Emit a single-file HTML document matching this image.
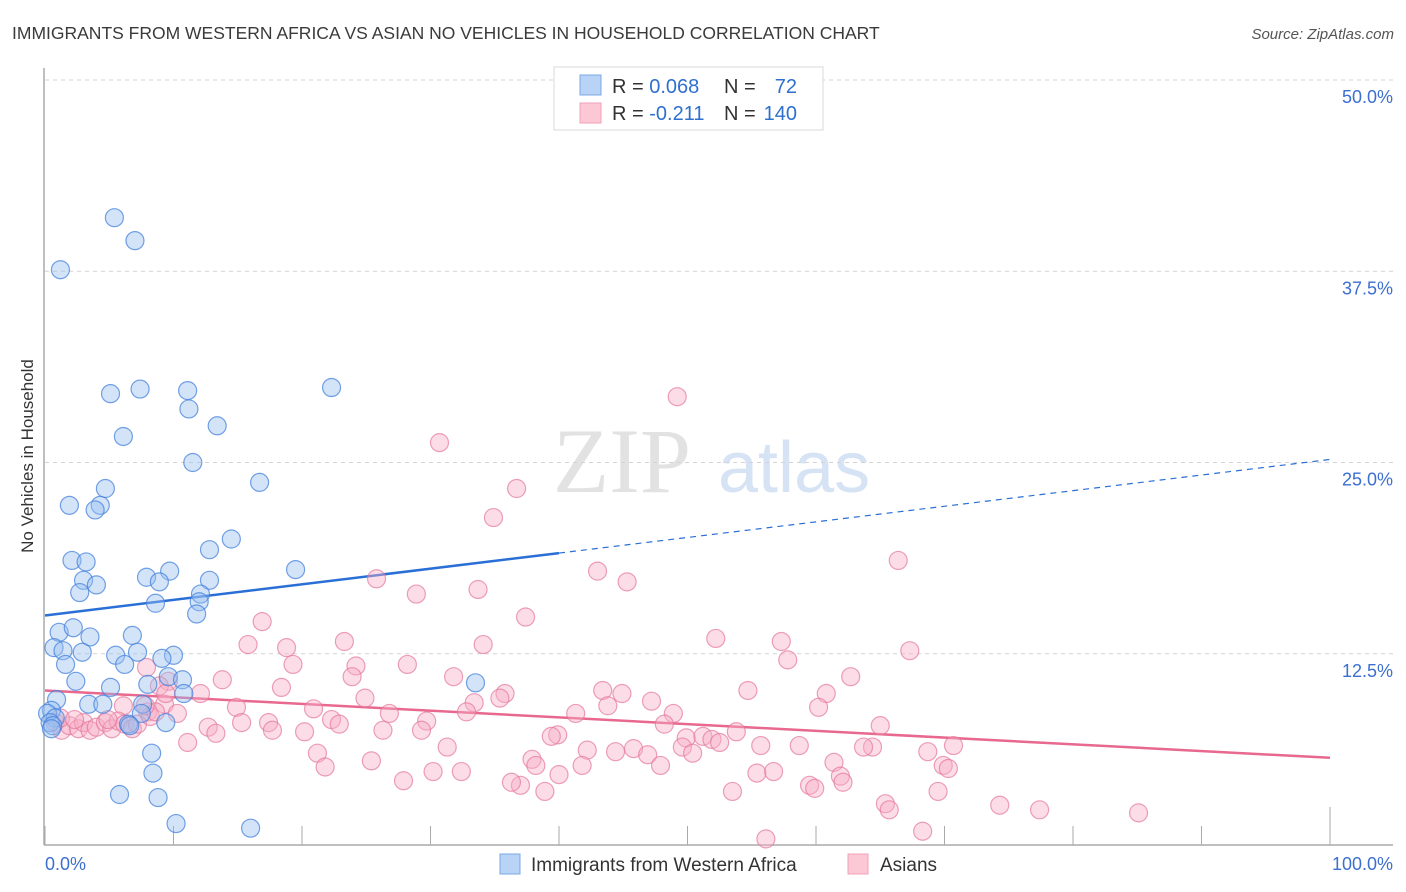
<!DOCTYPE html>
<html><head><meta charset="utf-8"><style>
body{margin:0;background:#fff;font-family:"Liberation Sans",sans-serif;}
svg{display:block}
</style></head><body>
<svg id="chart" width="1406" height="892" xmlns="http://www.w3.org/2000/svg">
<text x="12" y="39" font-size="17.5" fill="#3a3a3a">IMMIGRANTS FROM WESTERN AFRICA VS ASIAN NO VEHICLES IN HOUSEHOLD CORRELATION CHART</text>
<text x="1394" y="39" font-size="15" font-style="italic" fill="#555" text-anchor="end">Source: ZipAtlas.com</text>
<text x="33" y="456" font-size="17" fill="#333" text-anchor="middle" transform="rotate(-90 33 456)">No Vehicles in Household</text>
<g>
<text x="553" y="492" font-family="Liberation Serif,serif" font-size="92" fill="#e2e2e2">ZIP</text>
<text x="718" y="492" font-size="72" fill="#d6e3f5">atlas</text>
</g>
<g id="grid"></g><g id="axes"></g><g id="trend"></g><g id="pts"></g>
<g>
<rect x="554" y="67" width="269" height="63" fill="#fff" stroke="#d8d8d8"/>
<rect x="580" y="75" width="21" height="20" fill="#b8d3f5" stroke="#7aaae6"/>
<rect x="580" y="103" width="21" height="20" fill="#fcc8d6" stroke="#f0a0b8"/>
<text x="612" y="93" font-size="20" fill="#333">R = <tspan fill="#2f6fd0">0.068</tspan></text>
<text x="724" y="93" font-size="20" fill="#333">N = </text><text x="797" y="93" font-size="20" fill="#2f6fd0" text-anchor="end">72</text>
<text x="612" y="120" font-size="20" fill="#333">R = <tspan fill="#2f6fd0">-0.211</tspan></text>
<text x="724" y="120" font-size="20" fill="#333">N = </text><text x="797" y="120" font-size="20" fill="#2f6fd0" text-anchor="end">140</text>
</g>
<g>
<rect x="500" y="854" width="20" height="20" fill="#b8d3f5" stroke="#7aaae6"/>
<text x="531" y="871" font-size="19" fill="#333">Immigrants from Western Africa</text>
<rect x="848" y="854" width="20" height="20" fill="#fcc8d6" stroke="#f0a0b8"/>
<text x="880" y="871" font-size="19" fill="#333">Asians</text>
</g>
</svg>
<script>
const yTicks=[12.5,25,37.5,50];
const yTickLabels=["12.5%","25.0%","37.5%","50.0%"];
const xTicks=[0,10,20,30,40,50,60,70,80,90,100];
const xEndLabels=["0.0%","100.0%"];
const blueX=[1.2,5.4,7.0,5.1,7.4,11.1,22.3,11.2,13.4,6.1,11.5,16.7,4.7,1.9,4.3,3.9,14.5,12.8,2.1,3.2,19.5,9.7,7.9,3.0,8.9,12.8,4.0,2.7,12.1,8.6,12.0,11.8,1.1,2.2,3.5,6.8,0.7,1.4,2.9,7.2,10.0,5.5,9.1,6.2,1.6,9.6,2.4,8.0,10.7,33.5,5.1,10.8,0.9,3.4,7.6,4.5,0.5,0.2,0.8,7.5,0.4,6.5,9.4,6.6,0.6,0.5,8.3,8.4,5.8,8.8,10.2,16.0];
const blueY=[37.6,41.0,39.5,29.5,29.8,29.7,29.9,28.5,27.4,26.7,25.0,23.7,23.3,22.2,22.2,21.9,20.0,19.3,18.6,18.5,18.0,17.9,17.5,17.3,17.2,17.3,17.0,16.5,16.4,15.8,15.9,15.1,13.9,14.2,13.6,13.7,12.9,12.7,12.6,12.6,12.4,12.4,12.2,11.8,11.8,11.0,10.7,10.5,10.8,10.6,10.3,9.9,9.5,9.2,9.2,9.2,8.8,8.6,8.3,8.6,8.0,7.9,8.0,7.8,7.8,7.6,6.0,4.7,3.3,3.1,1.4,1.1];
const pinkX=[49.2,30.7,36.7,34.9,66.4,43.0,45.3,25.8,33.7,28.9,37.4,16.9,52.2,57.3,23.3,15.8,34.1,18.8,67.3,57.8,19.3,28.2,24.2,7.9,23.9,62.7,13.8,31.8,9.6,8.9,18.4,12.1,54.7,43.4,44.9,35.8,60.8,24.9,35.4,33.4,9.3,43.8,47.2,14.9,6.1,20.9,8.0,60.2,32.8,26.8,41.3,48.9,22.3,29.7,48.2,15.3,65.0,12.7,17.4,22.9,26.3,29.3,13.3,17.7,20.2,53.8,39.9,49.9,51.2,39.4,11.1,51.9,52.5,55.7,58.7,64.4,63.7,70.7,31.3,49.6,45.8,21.2,68.7,44.4,42.2,46.9,50.4,37.9,38.2,47.9,41.8,30.2,32.4,21.8,25.4,61.4,69.9,70.3,61.9,55.4,56.7,40.0,62.1,27.9,59.5,59.9,37.0,36.3,38.9,53.5,69.5,65.4,74.3,65.7,77.4,85.1,68.3,56.1,0.8,1.3,1.9,2.6,3.0,3.5,4.0,4.7,5.2,5.7,6.2,6.8,7.2,8.2,8.6,10.3,7.8,9.4,4.9,1.2,2.3];
const pinkY=[29.3,26.3,23.3,21.4,18.6,17.9,17.2,17.4,16.7,16.4,14.9,14.6,13.5,13.3,13.3,13.1,13.1,12.9,12.7,12.1,11.8,11.8,11.7,11.6,11.0,11.0,10.8,11.0,10.7,10.4,10.3,9.9,10.1,10.1,9.9,9.9,9.9,9.6,9.6,9.3,9.2,9.1,9.4,9.0,9.1,8.9,8.7,9.0,8.7,8.6,8.6,8.6,8.2,8.1,7.9,8.0,7.8,7.7,8.0,7.9,7.5,7.5,7.3,7.5,7.4,7.4,7.2,7.0,7.1,7.1,6.7,6.9,6.7,6.5,6.5,6.4,6.4,6.5,6.4,6.4,6.3,6.0,6.1,6.1,6.2,5.9,6.0,5.6,5.2,5.2,5.2,4.8,4.8,5.1,5.5,5.4,5.2,5.0,4.5,4.7,4.8,4.6,4.1,4.2,3.9,3.7,3.9,4.1,3.5,3.5,3.5,2.7,2.6,2.3,2.3,2.1,0.9,0.4,8.0,7.5,7.8,7.6,8.0,7.5,7.7,8.0,7.6,8.1,7.9,7.6,7.9,8.4,8.7,8.6,9.1,9.9,8.2,8.3,8.2];
const blueTrend=[15.0,25.2]; // y at x=0 and x=100
const blueSolidEnd=40;
const pinkTrend=[10.1,5.7];

const NS="http://www.w3.org/2000/svg";
const X0=45,X1=1330,Y0=845,YTOP=80;
const sx=v=>X0+v/100*(X1-X0);
const sy=v=>Y0-v/50*(Y0-YTOP);
function mk(tag,attrs,parent){const e=document.createElementNS(NS,tag);for(const k in attrs)e.setAttribute(k,attrs[k]);parent.appendChild(e);return e;}
const grid=document.getElementById('grid'),axes=document.getElementById('axes'),trend=document.getElementById('trend'),pts=document.getElementById('pts');
yTicks.forEach((t,i)=>{
  const l=mk('line',{x1:X0,x2:1393,y1:sy(t),y2:sy(t),stroke:'#d4d4d4','stroke-dasharray':'4,4'},grid);
  
  
  const tx=mk('text',{x:1393,y:sy(t)+23,'font-size':18,fill:'#3c6fd0','text-anchor':'end'},grid);
  tx.textContent=yTickLabels[i];
  
  
});
const ya=mk('line',{x1:X0-1,x2:X0-1,y1:68,y2:Y0,stroke:'#aaa','stroke-width':1.5},axes);


const xa=mk('line',{x1:X0-1,x2:1393,y1:Y0,y2:Y0,stroke:'#aaa','stroke-width':1.5},axes);


xTicks.forEach((t,i)=>{
  const tl=mk('line',{x1:sx(t),x2:sx(t),y1:(t===100?807:826),y2:Y0,stroke:'#aaa'},axes);
  
  
});
[[0,xEndLabels[0],'start',45],[100,xEndLabels[1],'end',1393]].forEach(a=>{
  const tx=mk('text',{x:a[3],y:870,'font-size':18,fill:'#3c6fd0','text-anchor':a[2]},axes);
  tx.textContent=a[1];
  
  
});
function drawPts(xs,ys,fill,stroke,name){
  xs.forEach((x,i)=>{
    const c=mk('circle',{cx:sx(x),cy:sy(ys[i]),r:9,fill:fill,stroke:stroke,'stroke-width':1.2},pts);
    
    
  });
}
drawPts(pinkX,pinkY,'rgba(248,175,198,0.42)','rgba(228,120,155,0.7)','asians-point');
drawPts(blueX,blueY,'rgba(150,190,240,0.42)','rgba(70,130,220,0.75)','western-africa-point');
const by=x=>blueTrend[0]+(blueTrend[1]-blueTrend[0])*x/100;
const b1=mk('line',{x1:sx(0),y1:sy(by(0)),x2:sx(blueSolidEnd),y2:sy(by(blueSolidEnd)),stroke:'#2a6fd6','stroke-width':2.5},trend);


const b2=mk('line',{x1:sx(blueSolidEnd),y1:sy(by(blueSolidEnd)),x2:sx(100),y2:sy(by(100)),stroke:'#2a6fd6','stroke-width':1.2,'stroke-dasharray':'6,5'},trend);


const p1=mk('line',{x1:sx(0),y1:sy(pinkTrend[0]),x2:sx(100),y2:sy(pinkTrend[1]),stroke:'#e8688f','stroke-width':2.5},trend);


</script>
</body></html>
